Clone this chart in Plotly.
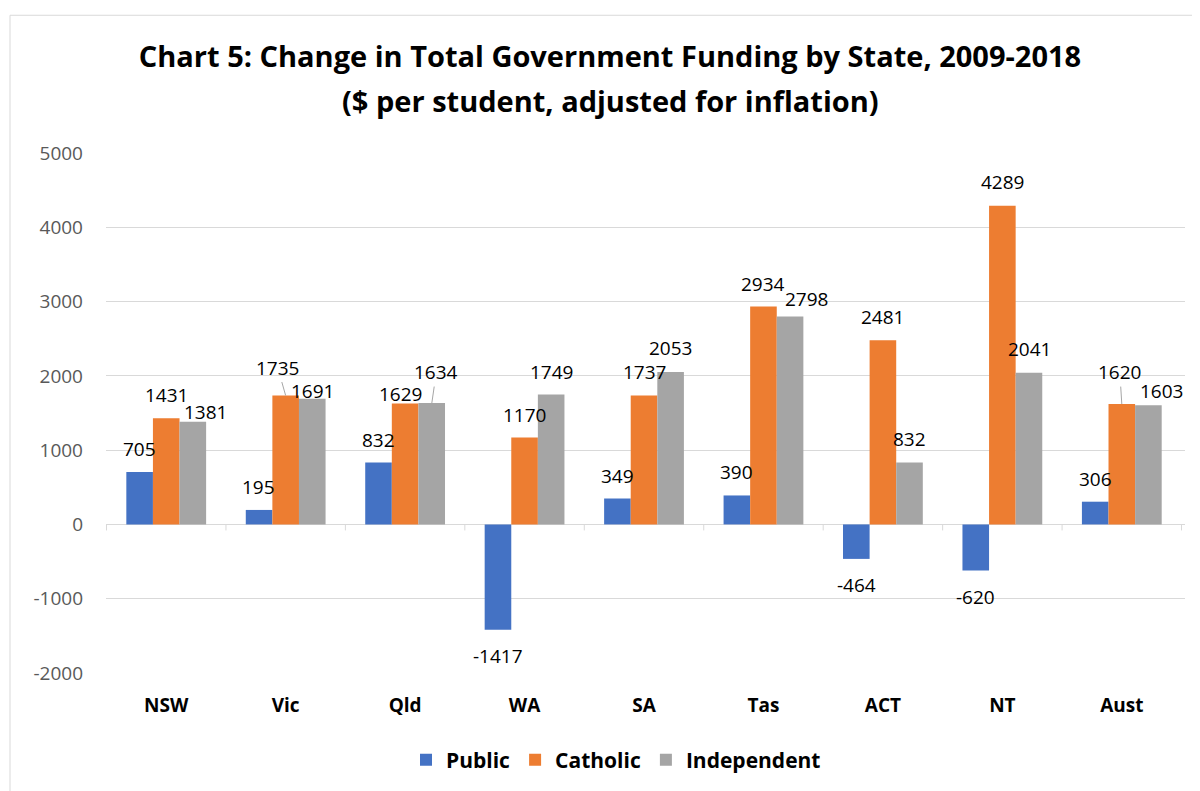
import plotly.graph_objects as go

# ---- data ----
states = ["NSW", "Vic", "Qld", "WA", "SA", "Tas", "ACT", "NT", "Aust"]
public = [705, 195, 832, -1417, 349, 390, -464, -620, 306]
catholic = [1431, 1735, 1629, 1170, 1737, 2934, 2481, 4289, 1620]
independent = [1381, 1691, 1634, 1749, 2053, 2798, 832, 2041, 1603]
series_names = ["Public", "Catholic", "Independent"]
y_ticks = [-2000, -1000, 0, 1000, 2000, 3000, 4000, 5000]
y_tick_labels = ["-2000", "-1000", "0", "1000", "2000", "3000", "4000", "5000"]

# ---- label placement tweaks (pixels, relative to bar end) ----
cath_dx = [0, -8, -4.5, 0, 0, 0, 0, 0, -2]
cath_dy = [-23.5, -28, -9.5, -23, -23, -22, -23.5, -23.5, -32]
cath_leader = [False, True, False, False, False, False, False, False, True]
ind_dx = [13, 0, 4.5, 0, 0, 16, 0, 0, 13]
ind_dy = [-10, -7.5, -31, -23, -23.5, -17.5, -23.5, -23.5, -14.5]
ind_leader = [False, False, True, False, False, False, False, False, False]

colors = ["#4472C4", "#ED7D31", "#A5A5A5"]
FONT = "Open Sans"

# page body margin offset (browser default 8px)
OFF = 8
W, H = 1200 - OFF, 791 - OFF
# plot area in page coordinates
PX0, PX1, PY0, PY1 = 106, 1185, 153, 674
ML = PX0 - OFF
MR = W - (PX1 - OFF)
MT = PY0 - OFF
MB = H - (PY1 - OFF)
BARGAP = 0.332
plot_w = PX1 - PX0
plot_h = PY1 - PY0
cat_px = plot_w / len(states)
bar_px = cat_px * (1 - BARGAP) / 3


def paper_x(px):
    return (px - PX0) / plot_w


def paper_y(py):
    return (PY1 - py) / plot_h


fig = go.Figure()
for name, vals, col in zip(series_names, [public, catholic, independent], colors):
    fig.add_trace(go.Bar(x=states, y=vals, name=name, marker=dict(color=col, line=dict(width=0))))

annotations = []
all_series = [public, catholic, independent]
dxs = [[0] * len(states), cath_dx, ind_dx]
dys = [[None] * len(states), cath_dy, ind_dy]
leaders = [[False] * len(states), cath_leader, ind_leader]
for k, vals in enumerate(all_series):
    off = (k - 1) * bar_px
    for i, v in enumerate(vals):
        dy = dys[k][i]
        if dy is None:
            dy = -23 if v >= 0 else 26.5
        dx = dxs[k][i]
        if leaders[k][i]:
            annotations.append(dict(
                x=states[i], y=v, xref="x", yref="y", text=str(v), xshift=off,
                showarrow=True, ax=dx, ay=dy, arrowhead=0, arrowwidth=1,
                arrowcolor="#A6A6A6", standoff=0,
                font=dict(family=FONT, size=19, color="#000000")))
        else:
            annotations.append(dict(
                x=states[i], y=v, xref="x", yref="y", text=str(v),
                xshift=off + dx, yshift=-dy, showarrow=False,
                xanchor="center", yanchor="middle",
                font=dict(family=FONT, size=19, color="#000000")))

# second title line
annotations.append(dict(
    text="<b>($ per student, adjusted for inflation)</b>",
    xref="paper", yref="paper", x=paper_x(610), y=paper_y(100),
    xanchor="center", yanchor="middle", showarrow=False,
    font=dict(family=FONT, size=29, color="#000000")))

shapes = []
# category boundary tick marks on the zero line
for i in range(len(states) + 1):
    shapes.append(dict(type="line", xref="x", yref="y", x0=i - 0.5, x1=i - 0.5,
                       ysizemode="pixel", yanchor=0, y0=0, y1=-6,
                       line=dict(color="#D9D9D9", width=1)))
# chart border
shapes.append(dict(type="rect", xref="paper", yref="paper",
                   x0=paper_x(10), x1=paper_x(1215),
                   y0=paper_y(800), y1=paper_y(15),
                   line=dict(color="#D9D9D9", width=1), fillcolor="rgba(0,0,0,0)",
                   layer="below"))

fig.update_layout(
    width=W, height=H,
    margin=dict(l=ML, r=MR, t=MT, b=MB),
    paper_bgcolor="white", plot_bgcolor="white",
    barmode="group", bargap=BARGAP, bargroupgap=0,
    title=dict(text="<b>Chart 5: Change in Total Government Funding by State, 2009-2018</b>",
               x=(610 - OFF) / W, xanchor="center", y=1 - (57 - OFF) / H, yanchor="middle",
               font=dict(family=FONT, size=29, color="#000000")),
    font=dict(family=FONT),
    legend=dict(orientation="h", x=paper_x(616), xanchor="center",
                y=paper_y(760), yanchor="middle",
                font=dict(family=FONT, size=21, color="#000000", weight="bold"),
                itemwidth=30, traceorder="normal"),
    annotations=annotations,
    shapes=shapes,
)
fig.update_xaxes(showgrid=False, showline=False, ticks="", zeroline=False,
                 tickfont=dict(family=FONT, size=19, color="#000000", weight="bold"),
                 ticklabelstandoff=19)
fig.update_yaxes(range=[-2000, 5000], tickmode="array", tickvals=y_ticks,
                 ticktext=y_tick_labels, showgrid=True, gridcolor="#D9D9D9",
                 gridwidth=1, zeroline=True, zerolinecolor="#D9D9D9", zerolinewidth=1,
                 showline=False, ticks="",
                 tickfont=dict(family=FONT, size=19, color="#595959"),
                 ticklabelstandoff=22)

fig.write_html("out.html")
